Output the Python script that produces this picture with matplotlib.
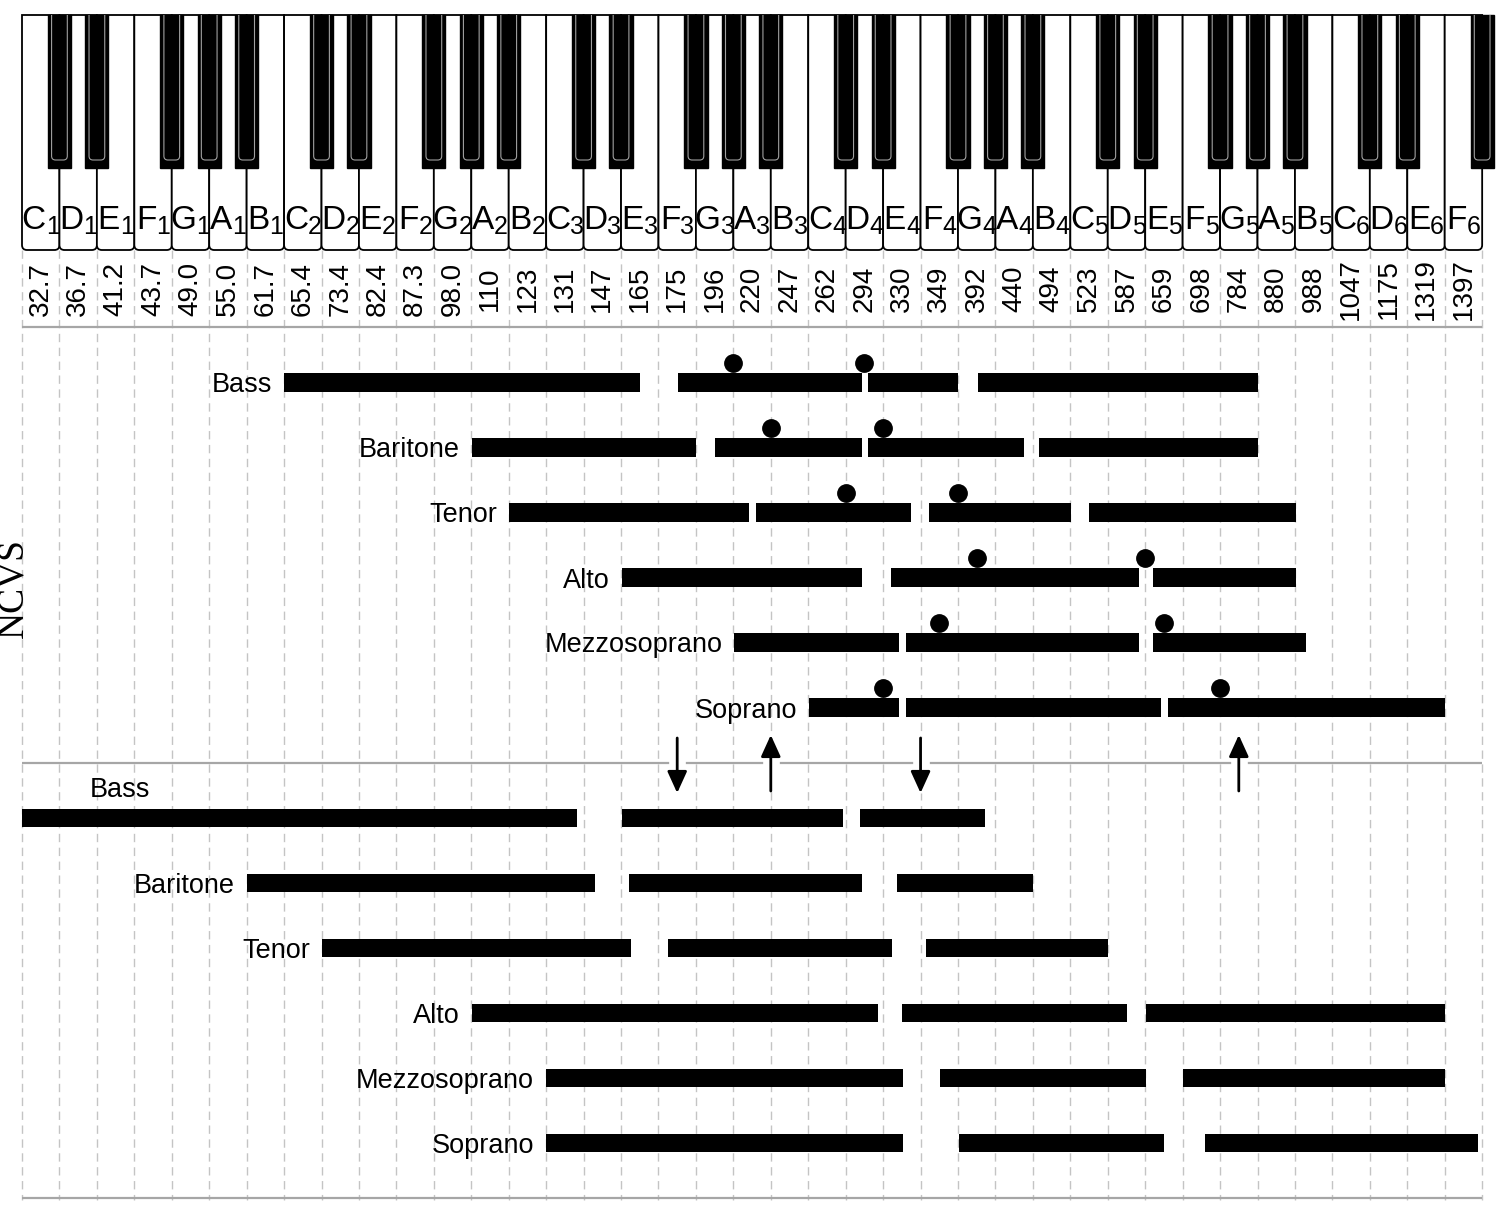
import matplotlib.pyplot as plt
from matplotlib.patches import PathPatch, Rectangle
from matplotlib.path import Path

plt.rcParams['font.family'] = ['Liberation Sans', 'DejaVu Sans']

# white keys C1 .. F6
key_letters = list('CDEFGAB' * 5 + 'CDEF')
key_octaves = [1] * 7 + [2] * 7 + [3] * 7 + [4] * 7 + [5] * 7 + [6] * 4
key_freqs = ['32.7', '36.7', '41.2', '43.7', '49.0', '55.0', '61.7',
             '65.4', '73.4', '82.4', '87.3', '98.0', '110', '123',
             '131', '147', '165', '175', '196', '220', '247',
             '262', '294', '330', '349', '392', '440', '494',
             '523', '587', '659', '698', '784', '880', '988',
             '1047', '1175', '1319', '1397']
# black keys sit on the border between two white keys
black_keys = [1, 2, 4, 5, 6, 8, 9, 11, 12, 13, 15, 16, 18, 19, 20,
              22, 23, 25, 26, 27, 29, 30, 32, 33, 34, 36, 37, 39]

voices = ['Bass', 'Baritone', 'Tenor', 'Alto', 'Mezzosoprano', 'Soprano']

# upper panel: register segments (start, end) in white-key units
up_bass = [(7.00, 16.51), (17.51, 22.43), (22.60, 25.00), (25.53, 33.02)]
up_baritone = [(12.01, 18.00), (18.51, 22.43), (22.60, 26.77), (27.16, 33.02)]
up_tenor = [(13.02, 19.42), (19.60, 23.74), (24.23, 28.01), (28.51, 34.02)]
up_alto = [(16.02, 22.43), (23.21, 29.84), (30.22, 34.02)]
up_mezzo = [(19.03, 23.42), (23.60, 29.84), (30.22, 34.30)]
up_soprano = [(21.02, 23.42), (23.60, 30.43), (30.60, 38.02)]
upper_ranges = [up_bass, up_baritone, up_tenor, up_alto, up_mezzo, up_soprano]

# transition points marked with dots
up_dots = [[19.0, 22.5], [20.0, 23.0], [22.0, 25.0],
           [25.5, 30.0], [24.5, 30.5], [23.0, 32.0]]

# lower panel
low_bass = [(0.00, 14.83), (16.02, 21.92), (22.37, 25.71)]
low_baritone = [(6.01, 15.30), (16.20, 22.43), (23.38, 27.01)]
low_tenor = [(8.01, 16.27), (17.25, 23.23), (24.15, 29.01)]
low_alto = [(12.01, 22.87), (23.51, 29.51), (30.01, 38.02)]
low_mezzo = [(14.00, 23.54), (24.52, 30.01), (31.02, 38.02)]
low_soprano = [(14.00, 23.54), (25.02, 30.51), (31.61, 38.89)]
lower_ranges = [low_bass, low_baritone, low_tenor, low_alto, low_mezzo, low_soprano]

arrow_x = [17.5, 20.0, 24.0, 32.5]
arrow_up = [False, True, False, True]

W, H = 1500, 1206
X0 = 22
KEY_W = 37.44
ROW = 65

fig = plt.figure(figsize=(W / 100, H / 100), dpi=100)

# background axes: x in white-key units, y in pixels
bg = fig.add_axes([0, 0, 1, 1])
bg.set_xlim(-X0 / KEY_W, (W - X0) / KEY_W)
bg.set_ylim(H, 0)
bg.axis('off')


def key_path(x0, x1, top, bottom, rx, ry, closed=True):
    verts = [(x0, top), (x0, bottom - ry), (x0, bottom), (x0 + rx, bottom),
             (x1 - rx, bottom), (x1, bottom), (x1, bottom - ry), (x1, top)]
    codes = [Path.MOVETO, Path.LINETO, Path.CURVE3, Path.CURVE3,
             Path.LINETO, Path.CURVE3, Path.CURVE3, Path.LINETO]
    if closed:
        verts.append((x0, top))
        codes.append(Path.CLOSEPOLY)
    return Path(verts, codes)


# keyboard
for i in range(len(key_letters)):
    bg.add_patch(PathPatch(key_path(i, i + 1, 15, 250, 5 / KEY_W, 5),
                           fc='white', ec='black', lw=1.3, zorder=2))
for b in black_keys:
    bg.add_patch(Rectangle((b - 0.31, 15), 0.62, 153, fc='black', ec='black',
                           lw=1, zorder=3))
    bg.add_patch(PathPatch(key_path(b - 0.21, b + 0.21, 15, 160, 4 / KEY_W, 4, closed=False),
                           fc='none', ec='#a0a0a0', lw=0.8, zorder=4))

# note names with octave subscripts
renderer = fig.canvas.get_renderer()
for i, (letter, octave) in enumerate(zip(key_letters, key_octaves)):
    t1 = bg.text(i, 229, letter, fontsize=24, va='baseline', ha='left', zorder=5)
    t2 = bg.text(i, 234, str(octave), fontsize=18, va='baseline', ha='left', zorder=5)
    w1 = t1.get_window_extent(renderer).width / KEY_W
    w2 = t2.get_window_extent(renderer).width / KEY_W
    left = i + 0.5 - (w1 + w2) / 2
    t1.set_x(left)
    t2.set_x(left + w1)

for i, f in enumerate(key_freqs):
    bg.text(i + 0.5, 289, f, rotation=90, ha='center', va='center', fontsize=20)

# grid and separators
bg.vlines(range(len(key_letters) + 1), 250, 1200, colors='#c4c4c4', lw=1,
          linestyles=(0, (6, 4)), zorder=1)
bg.hlines([326.5, 763, 1198], 0, len(key_letters), colors='#a6a6a6', lw=1.6, zorder=1.5)

# arrows between the panels, on a white strip that breaks the separator
for x, up in zip(arrow_x, arrow_up):
    tail, tip = (791, 735) if up else (738, 793)
    bg.plot([x, x], [tail, tip], color='white', lw=12, solid_capstyle='butt', zorder=5)
    bg.annotate('', xy=(x, tip), xytext=(x, tail),
                arrowprops=dict(arrowstyle='-|>,head_length=0.55,head_width=0.25',
                                color='black', lw=2, mutation_scale=24,
                                shrinkA=0, shrinkB=0), zorder=6)

fig.text(22 / W, 1 - 638 / H, 'NCVS', rotation=90, rotation_mode='anchor',
         ha='left', va='baseline', fontsize=27, family='Liberation Serif')


def panel(top, bottom, first_row):
    ax = fig.add_axes([X0 / W, 1 - bottom / H, 39 * KEY_W / W, (bottom - top) / H])
    ax.set_xlim(0, 39)
    ax.set_ylim((bottom - first_row) / ROW, (top - first_row) / ROW)
    ax.axis('off')
    ax.patch.set_alpha(0)
    return ax


def draw_ranges(ax, ranges):
    for i, (name, segs) in enumerate(zip(voices, ranges)):
        ax.barh(i, [e - s for s, e in segs], left=[s for s, e in segs],
                height=0.28, color='black', zorder=3)
        if segs[0][0] < 2:
            ax.text(1.82, i - 0.47, name, ha='left', va='center_baseline', fontsize=19.5)
        else:
            ax.text(segs[0][0] - 12 / KEY_W, i, name, ha='right',
                    va='center_baseline', fontsize=19.5)


upper = panel(327, 763, 382.5)
draw_ranges(upper, upper_ranges)
for i, dots in enumerate(up_dots):
    upper.plot(dots, [i - 0.295] * len(dots), 'o', ms=12.5, color='black', zorder=4)

lower = panel(763, 1198, 818)
draw_ranges(lower, lower_ranges)

fig.savefig('out.png', dpi=100)
